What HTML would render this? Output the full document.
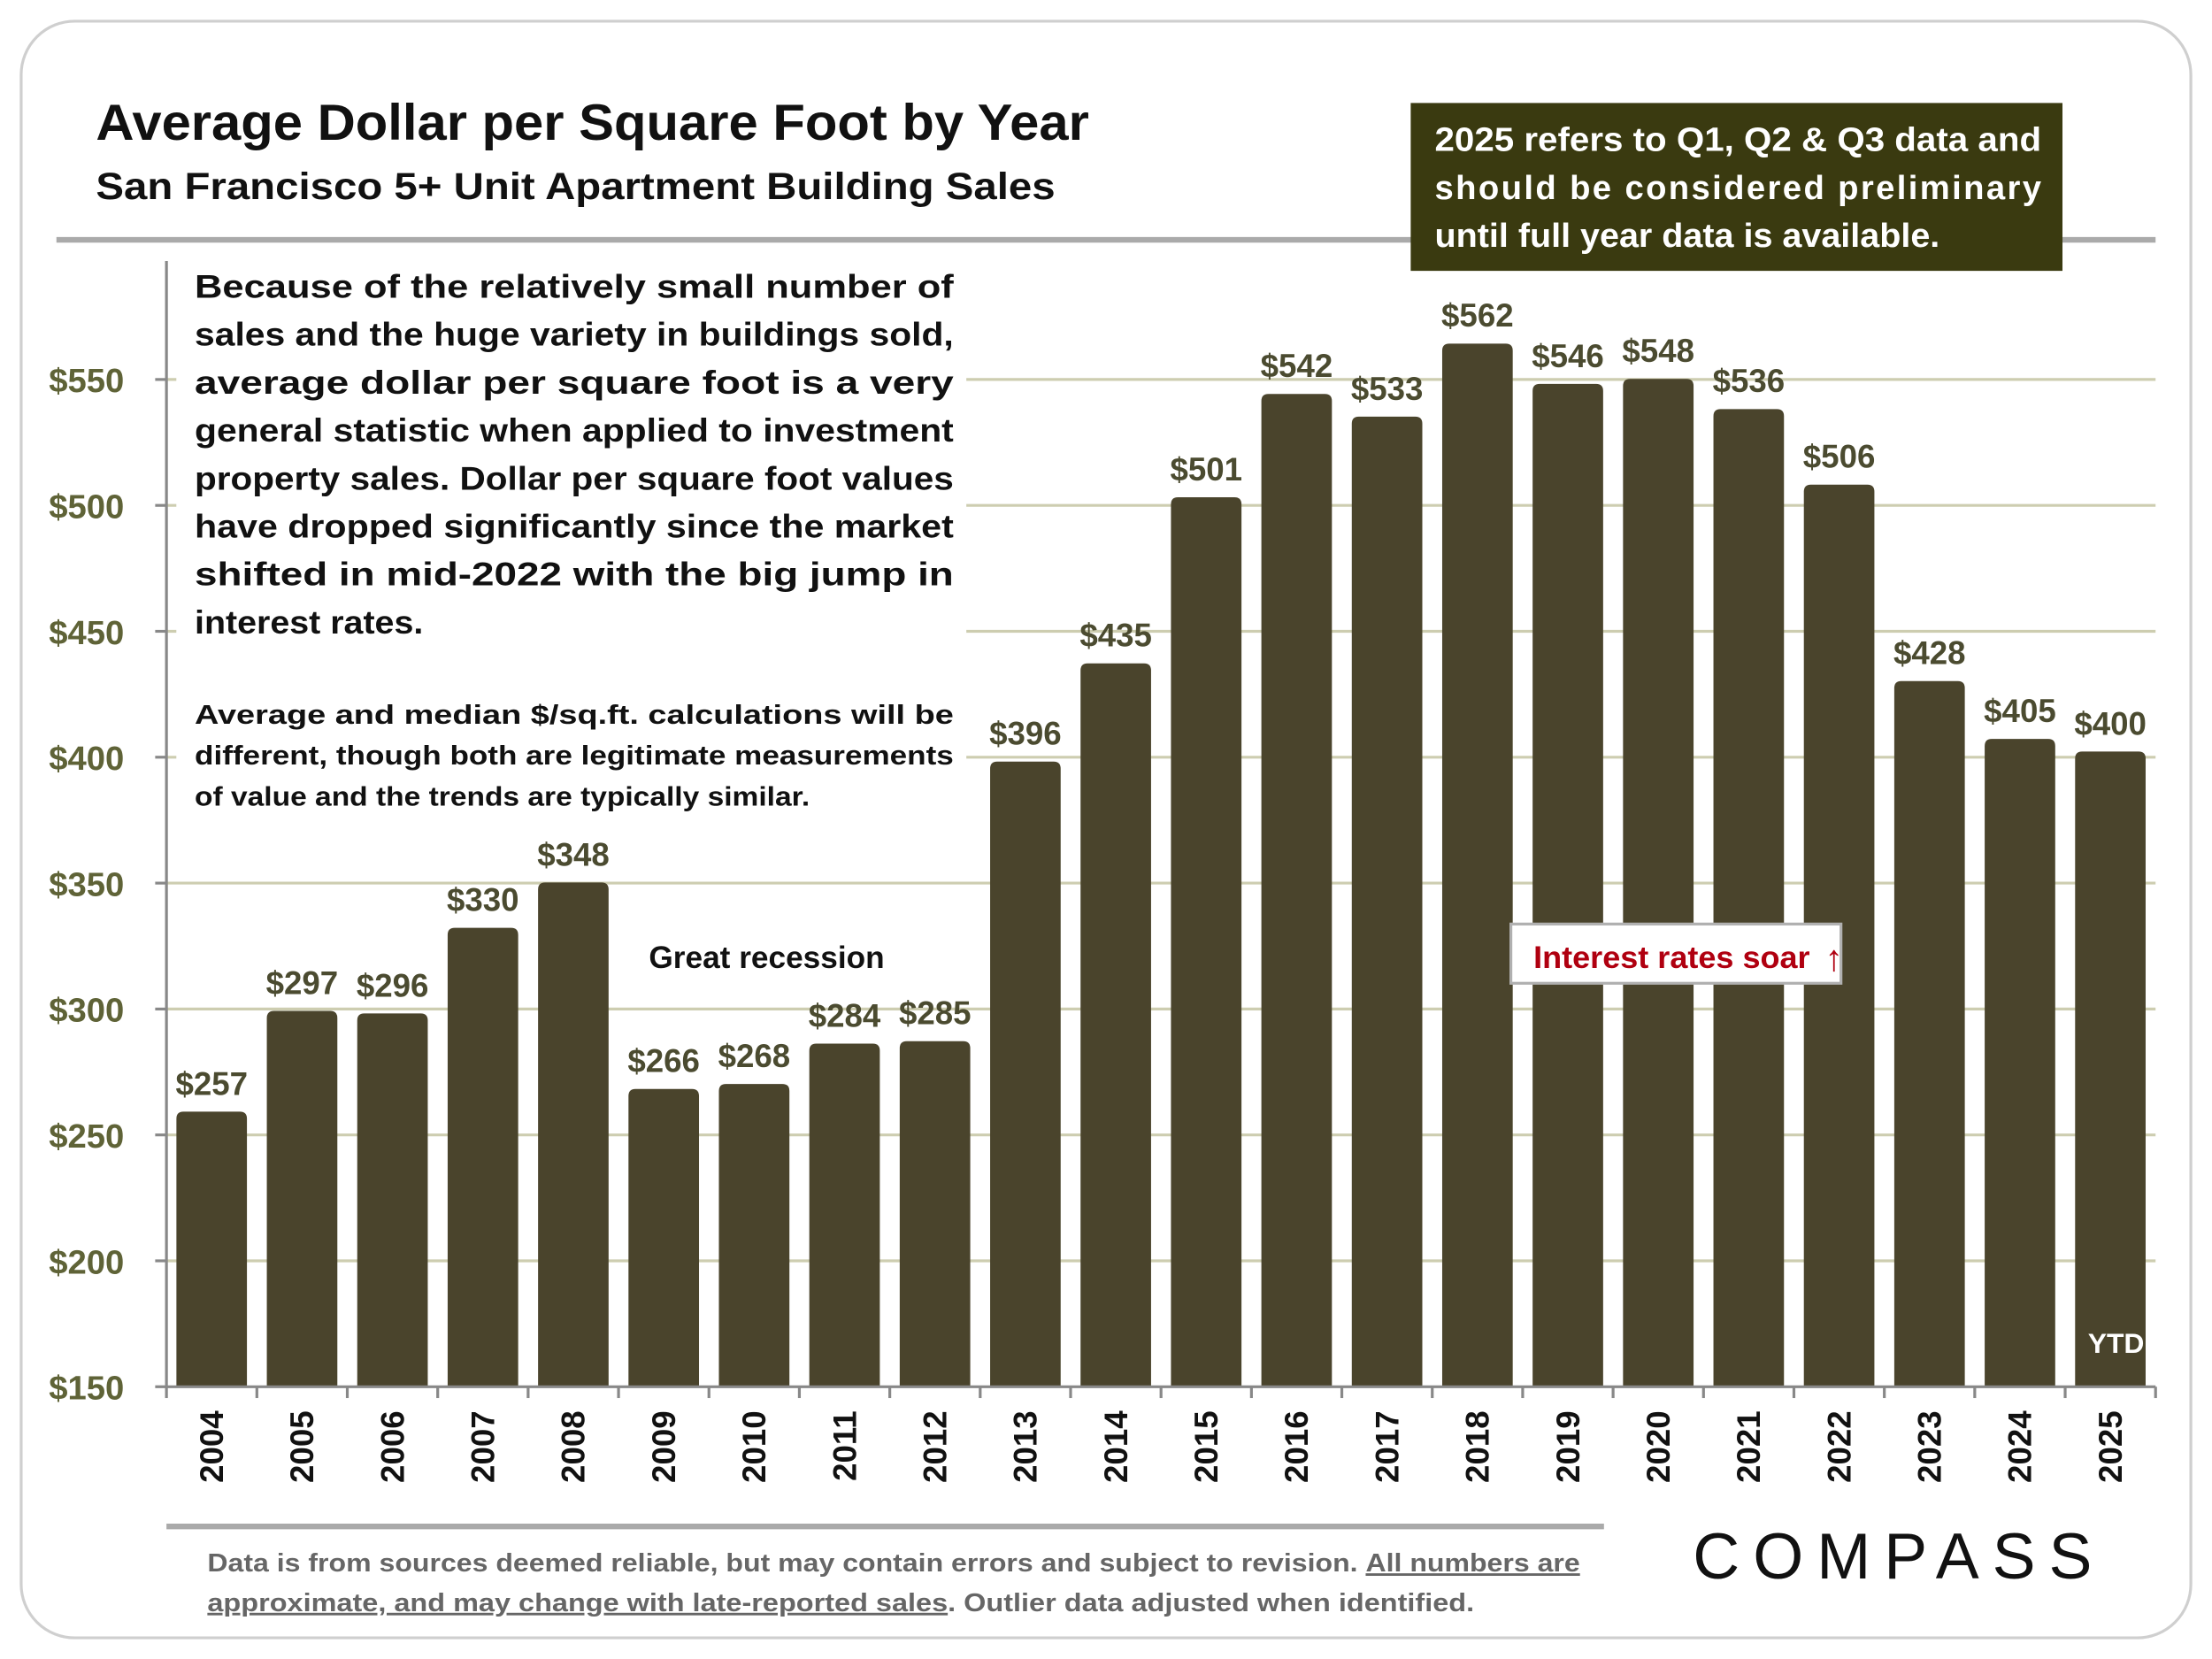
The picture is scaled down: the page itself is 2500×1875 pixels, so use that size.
<!DOCTYPE html>
<html><head><meta charset="utf-8"><style>
html,body{margin:0;padding:0;background:#fff;}
svg{display:block;}
text{font-family:"Liberation Sans",sans-serif;font-weight:bold;}
</style></head><body>
<svg id="chart" width="2500" height="1875" viewBox="0 0 1568 1176" xmlns="http://www.w3.org/2000/svg">
<rect x="15" y="15" width="1538" height="1146" rx="38" fill="#fff" stroke="#cfcfcf" stroke-width="2"/>
<text x="68" y="99" font-size="36" fill="#111" textLength="704" lengthAdjust="spacingAndGlyphs">Average Dollar per Square Foot by Year</text>
<text x="68" y="141" font-size="27" fill="#111" textLength="680" lengthAdjust="spacingAndGlyphs">San Francisco 5+ Unit Apartment Building Sales</text>
<line x1="40" y1="170" x2="1528" y2="170" stroke="#aaaaaa" stroke-width="4"/>
<g>
<rect x="1000" y="73" width="462" height="119" fill="#3a3a10"/>
<text x="1017" y="107" font-size="24" fill="#fff" textLength="430" lengthAdjust="spacingAndGlyphs">2025 refers to Q1, Q2 &amp; Q3 data and</text>
<text x="1017" y="141" font-size="24" fill="#fff" textLength="430" lengthAdjust="spacing">should  be  considered  preliminary</text>
<text x="1017" y="175" font-size="24" fill="#fff" textLength="358" lengthAdjust="spacingAndGlyphs">until full year data is available.</text>
</g>
<g id="grid"></g>
<g id="yaxis"></g>
<g id="bars"></g>
<g id="xaxis"></g>
<g>
<rect x="125" y="185" width="560" height="395" fill="#fff"/>
<text font-size="23" fill="#111">
<tspan x="138" y="211" textLength="538" lengthAdjust="spacingAndGlyphs">Because of the relatively small number of</tspan>
<tspan x="138" y="245" textLength="538" lengthAdjust="spacingAndGlyphs">sales and the huge variety in buildings sold,</tspan>
<tspan x="138" y="279" textLength="538" lengthAdjust="spacingAndGlyphs">average dollar per square foot is a very</tspan>
<tspan x="138" y="313" textLength="538" lengthAdjust="spacingAndGlyphs">general statistic when applied to investment</tspan>
<tspan x="138" y="347" textLength="538" lengthAdjust="spacingAndGlyphs">property sales. Dollar per square foot values</tspan>
<tspan x="138" y="381" textLength="538" lengthAdjust="spacingAndGlyphs">have dropped significantly since the market</tspan>
<tspan x="138" y="415" textLength="538" lengthAdjust="spacingAndGlyphs">shifted in mid-2022 with the big jump in</tspan>
<tspan x="138" y="449" textLength="162" lengthAdjust="spacingAndGlyphs">interest rates.</tspan>
</text>
<text font-size="19" fill="#111">
<tspan x="138" y="513" textLength="538" lengthAdjust="spacingAndGlyphs">Average and median $/sq.ft. calculations will be</tspan>
<tspan x="138" y="542" textLength="538" lengthAdjust="spacingAndGlyphs">different, though both are legitimate measurements</tspan>
<tspan x="138" y="571" textLength="436" lengthAdjust="spacingAndGlyphs">of value and the trends are typically similar.</tspan>
</text>
</g>
<text x="460" y="686" font-size="22" fill="#111" textLength="167" lengthAdjust="spacingAndGlyphs">Great recession</text>
<g>
<rect x="1071" y="655" width="234" height="42" fill="#fff" stroke="#b0b0b0" stroke-width="2"/>
<text x="1087" y="686" font-size="22" fill="#b00010" textLength="196" lengthAdjust="spacingAndGlyphs">Interest rates soar</text>
<text x="1300" y="688" font-size="26" fill="#b00010" text-anchor="middle">↑</text>
</g>
<text x="1500" y="959" font-size="20" fill="#fff" text-anchor="middle">YTD</text>
<line x1="118" y1="1082" x2="1137" y2="1082" stroke="#aaaaaa" stroke-width="4"/>
<g fill="#666" font-size="18">
<text x="147" y="1114" textLength="973" lengthAdjust="spacingAndGlyphs">Data is from sources deemed reliable, but may contain errors and subject to revision. <tspan text-decoration="underline">All numbers are</tspan></text>
<text x="147" y="1142" textLength="898" lengthAdjust="spacingAndGlyphs"><tspan text-decoration="underline">approximate, and may change with late-reported sales</tspan>.  Outlier data adjusted when identified.</text>
</g>
<g>
<text x="1200" y="1119" font-size="46" fill="#111" style="font-weight:normal" textLength="283" lengthAdjust="spacing">COMPASS</text>
</g>
</svg>
<script>
const years = ["2004","2005","2006","2007","2008","2009","2010","2011","2012","2013","2014","2015","2016","2017","2018","2019","2020","2021","2022","2023","2024","2025"];
const values = [257,297,296,330,348,266,268,284,285,396,435,501,542,533,562,546,548,536,506,428,405,400];
const valueLabels = ["$257","$297","$296","$330","$348","$266","$268","$284","$285","$396","$435","$501","$542","$533","$562","$546","$548","$536","$506","$428","$405","$400"];
const yTicks = [150,200,250,300,350,400,450,500,550];
const yTickLabels = ["$150","$200","$250","$300","$350","$400","$450","$500","$550"];

const NS = "http://www.w3.org/2000/svg";
const X0 = 118, X1 = 1528, Y0 = 983;
const step = (X1 - X0) / years.length;
const barW = step * 0.78;
function yScale(v){ return Y0 - (v - 150) * 1.785 - 4; }
function gridY(v){ return Y0 - (v - 150) * 1.785; }
function xCenter(i){ return X0 + step * (i + 0.5); }
function mk(tag, attrs, parent){ const e = document.createElementNS(NS, tag); for (const k in attrs) e.setAttribute(k, attrs[k]); parent.appendChild(e); return e; }

const grid = document.getElementById('grid');
const yaxis = document.getElementById('yaxis');
yTicks.forEach((t, i) => {
  const y = gridY(t);
  if (t > 150) {
    const g = mk('line', {x1: X0, y1: y, x2: X1, y2: y, stroke: '#cdcdb0', 'stroke-width': 2}, grid);
    
    
  }
  const tk = mk('line', {x1: X0 - 8, y1: y, x2: X0, y2: y, stroke: '#888', 'stroke-width': 2}, yaxis);
  
  
  const lb = mk('text', {x: 88, y: y + 9, 'font-size': 24, fill: '#5f6337', 'text-anchor': 'end'}, yaxis);
  lb.textContent = yTickLabels[i];
  
  
});
const yl = mk('line', {x1: X0, y1: 185, x2: X0, y2: Y0, stroke: '#888', 'stroke-width': 2}, yaxis);



const bars = document.getElementById('bars');
values.forEach((v, i) => {
  const top = yScale(v), cx = xCenter(i), x = cx - barW / 2, r = 5;
  const p = mk('path', {d: `M${x},${Y0} V${top + r} Q${x},${top} ${x + r},${top} H${x + barW - r} Q${x + barW},${top} ${x + barW},${top + r} V${Y0} Z`, fill: '#4a442c'}, bars);
  
  
  const t = mk('text', {x: cx, y: top - 12, 'font-size': 23, fill: '#4b4b30', 'text-anchor': 'middle'}, bars);
  t.textContent = valueLabels[i];
  
  
});

const xaxis = document.getElementById('xaxis');
const xl = mk('line', {x1: X0, y1: Y0, x2: X1, y2: Y0, stroke: '#888', 'stroke-width': 2}, xaxis);


for (let i = 0; i <= years.length; i++) {
  const x = X0 + step * i;
  const tk = mk('line', {x1: x, y1: Y0, x2: x, y2: Y0 + 8, stroke: '#888', 'stroke-width': 2}, xaxis);
  
  
}
years.forEach((yr, i) => {
  const cx = xCenter(i) + 8;
  const t = mk('text', {x: cx, y: 1000, 'font-size': 23, fill: '#111', 'text-anchor': 'end', transform: `rotate(-90 ${cx} 1000)`}, xaxis);
  t.textContent = yr;
  
  
});
</script>
</body></html>
